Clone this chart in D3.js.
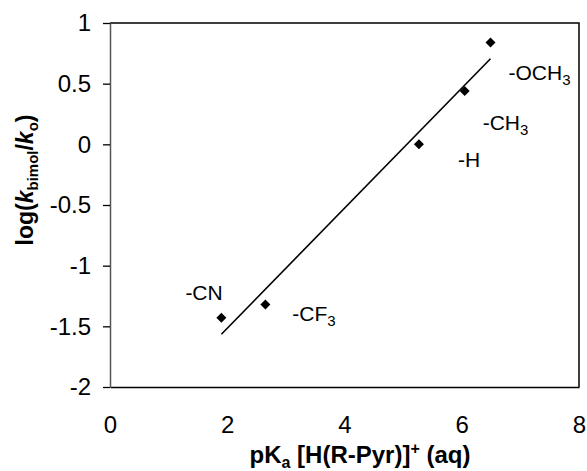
<!DOCTYPE html>
<html>
<head>
<meta charset="utf-8">
<script src="https://cdn.jsdelivr.net/npm/d3@7"></script>
<style>
  body { margin: 0; background: #fff; }
  text { font-family: Arial, "Liberation Sans", sans-serif; }
</style>
</head>
<body>
<script>
// substituent pKa vs log(kbimol/ko)
const substituents = ["-CN", "-CF3", "-H", "-CH3", "-OCH3"];
const pKa = [1.9, 2.65, 5.27, 6.05, 6.49];
const logK = [-1.43, -1.32, 0.0, 0.44, 0.84];

// trend line end points
const fitX = [1.9, 6.49];
const fitY = [-1.565, 0.705];

const xTicks = [0, 2, 4, 6, 8];
const yTicks = [1, 0.5, 0, -0.5, -1, -1.5, -2];
const yTickLabels = ["1", "0.5", "0", "-0.5", "-1", "-1.5", "-2"];

const margin = { top: 23, right: 8, bottom: 84, left: 110 },
    width = 587 - margin.left - margin.right,
    height = 471 - margin.top - margin.bottom;

const svg = d3.select("body")
    .append("svg")
    .attr("width", 587)
    .attr("height", 471);

const g = svg.append("g")
    .attr("transform", `translate(${margin.left},${margin.top})`);

const x = d3.scaleLinear().domain([0, 8]).range([0, width]);
const y = d3.scaleLinear().domain([-2, 1]).range([height, 0]);

// frame: top and right
g.append("path")
    .attr("d", `M0,0H${width}V${height}`)
    .attr("fill", "none")
    .attr("stroke", "#000")
    .attr("stroke-width", 1.5);

// x axis, no tick marks
const xAxis = g.append("g")
    .attr("transform", `translate(0,${height})`)
    .call(d3.axisBottom(x).tickValues(xTicks).tickSize(0).tickPadding(29).tickSizeOuter(0));
xAxis.select(".domain").attr("stroke", "#000").attr("stroke-width", 1.5);
xAxis.selectAll("text").attr("font-size", 24).attr("fill", "#000")
    .style("font-family", "Arial, 'Liberation Sans', sans-serif");

// y axis
const yAxis = g.append("g")
    .call(d3.axisLeft(y).tickValues(yTicks).tickSize(7).tickPadding(12).tickSizeOuter(0)
        .tickFormat((d, i) => yTickLabels[i]));
yAxis.select(".domain").attr("stroke", "#555").attr("stroke-width", 1.5);
yAxis.selectAll("line").attr("stroke", "#000").attr("stroke-width", 1.3);
yAxis.selectAll("text").attr("font-size", 24).attr("fill", "#000")
    .style("font-family", "Arial, 'Liberation Sans', sans-serif");

// trend line
const line = d3.line()
    .x(d => x(d[0]))
    .y(d => y(d[1]));

g.append("path")
    .datum(fitX.map((v, i) => [v, fitY[i]]))
    .attr("fill", "none")
    .attr("stroke", "#000")
    .attr("stroke-width", 1.6)
    .attr("d", line);

// diamonds
const pts = pKa.map((v, i) => ({ x: v, y: logK[i], name: substituents[i] }));

g.selectAll(".pt")
    .data(pts)
    .enter()
    .append("path")
    .attr("class", "pt")
    .attr("d", d3.symbol(d3.symbolSquare, 50))
    .attr("transform", d => `translate(${x(d.x)},${y(d.y)}) rotate(45)`)
    .attr("fill", "#000");

// substituent labels, offset in px from each point
const labelOffsets = [[-36, -18], [27, 17], [39, 23], [18, 39], [18, 38]];

pts.forEach((d, i) => {
    const t = g.append("text")
        .attr("x", x(d.x) + labelOffsets[i][0])
        .attr("y", y(d.y) + labelOffsets[i][1])
        .attr("font-size", 21)
        .attr("fill", "#000");
    const m = d.name.match(/^(.*?)(\d*)$/);
    t.append("tspan").text(m[1]);
    if (m[2]) {
        t.append("tspan").attr("font-size", 15).attr("dy", 5).text(m[2]);
    }
});

// axis titles
const xt = svg.append("text")
    .attr("x", 360)
    .attr("y", 463)
    .attr("text-anchor", "middle")
    .attr("font-size", 24)
    .attr("font-weight", "bold");
xt.append("tspan").text("pK");
xt.append("tspan").attr("font-size", 16).attr("dy", 5).text("a");
xt.append("tspan").attr("dy", -5).text(" [H(R-Pyr)]");
xt.append("tspan").attr("font-size", 16).attr("dy", -9).text("+");
xt.append("tspan").attr("dy", 9).text(" (aq)");

const yt = svg.append("text")
    .attr("transform", "translate(33,180) rotate(-90)")
    .attr("text-anchor", "middle")
    .attr("font-size", 23)
    .attr("font-weight", "bold");
yt.append("tspan").text("log(");
yt.append("tspan").attr("font-style", "italic").text("k");
yt.append("tspan").attr("font-size", 15).attr("dy", 5).text("bimol");
yt.append("tspan").attr("dy", -5).text("/");
yt.append("tspan").attr("font-style", "italic").text("k");
yt.append("tspan").attr("font-size", 15).attr("dy", 5).text("o");
yt.append("tspan").attr("dy", -5).text(")");
</script>
</body>
</html>
